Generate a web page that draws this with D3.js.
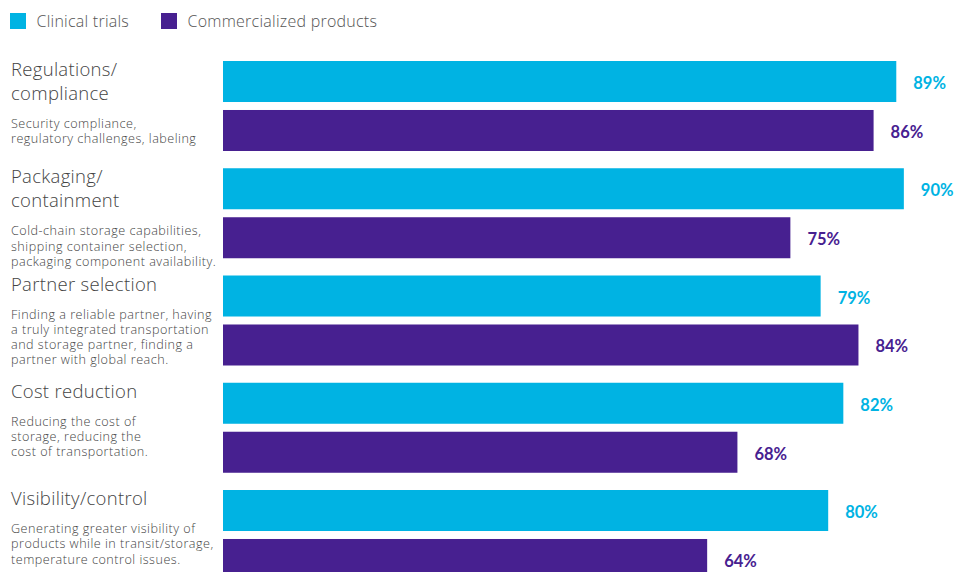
<!DOCTYPE html>
<html>
<head>
<meta charset="utf-8">
<script src="https://cdn.jsdelivr.net/npm/d3@7"></script>
<style>
  html, body { margin: 0; padding: 0; background: #fff; }
  svg { display: block; font-family: "Open Sans", Lato, sans-serif; }
</style>
</head>
<body>
<svg id="chart" width="969" height="572"></svg>
<script>
const categories = ["Regulations/ compliance", "Packaging/ containment", "Partner selection", "Cost reduction", "Visibility/control"];
const titleLines = [["Regulations/", "compliance"], ["Packaging/", "containment"], ["Partner selection"], ["Cost reduction"], ["Visibility/control"]];
const descLines = [
  ["Security compliance,", "regulatory challenges, labeling"],
  ["Cold-chain storage capabilities,", "shipping container selection,", "packaging component availability."],
  ["Finding a reliable partner, having", "a truly integrated transportation", "and storage partner, finding a", "partner with global reach."],
  ["Reducing the cost of", "storage, reducing the", "cost of transportation."],
  ["Generating greater visibility of", "products while in transit/storage,", "temperature control issues."]
];
const series = ["Clinical trials", "Commercialized products"];
const clinical = [89, 90, 79, 82, 80];
const commercial = [86, 75, 84, 68, 64];
const colors = ["#00B3E3", "#472090"];

const svg = d3.select("#chart");
const x = d3.scaleLinear().domain([0, 100]).range([223, 979.5]);
const y0 = d3.scaleBand().domain(categories).range([61, 61 + 5 * 107.25]);
const y1 = d3.scaleBand().domain(series).range([0, 90]).paddingInner(0.163);

const data = categories.map((c, i) => ({ cat: c, i, vals: [clinical[i], commercial[i]] }));

// legend
const legend = svg.append("g");
const legX = [10, 161];
series.forEach((s, k) => {
  legend.append("rect").attr("x", legX[k]).attr("y", 13).attr("width", 16).attr("height", 16).attr("fill", colors[k]);
  legend.append("text").attr("x", legX[k] + 26.5).attr("y", 26.5).attr("font-size", 16).attr("font-weight", 300)
    .attr("letter-spacing", 0.25).attr("fill", "#555").text(s);
});

// groups
const g = svg.selectAll("g.cat").data(data).join("g").attr("class", "cat")
  .attr("transform", d => `translate(0,${y0(d.cat)})`);

g.selectAll("rect.bar").data(d => d.vals.map((v, k) => ({ v, k }))).join("rect")
  .attr("class", "bar")
  .attr("x", x(0))
  .attr("y", d => y1(series[d.k]))
  .attr("width", d => x(d.v) - x(0))
  .attr("height", y1.bandwidth())
  .attr("fill", d => colors[d.k]);

g.selectAll("text.val").data(d => d.vals.map((v, k) => ({ v, k }))).join("text")
  .attr("class", "val")
  .attr("x", d => x(d.v) + 17)
  .attr("y", d => y1(series[d.k]) + y1.bandwidth() / 2 + 7.5)
  .attr("font-family", "Lato, sans-serif")
  .attr("font-size", 16.5)
  .attr("font-weight", 700)
  .attr("fill", d => colors[d.k])
  .text(d => d.v + "%");

// titles
g.each(function(d) {
  const sel = d3.select(this);
  const tl = titleLines[d.i];
  tl.forEach((line, j) => {
    sel.append("text").attr("x", 11).attr("y", 15 + j * 24)
      .attr("font-size", 18.5).attr("font-weight", 300).attr("letter-spacing", 0.3)
      .attr("fill", "#444").text(line);
  });
  const start = 15 + (tl.length - 1) * 24 + 28;
  descLines[d.i].forEach((line, j) => {
    sel.append("text").attr("x", 11).attr("y", start + j * 15.3)
      .attr("font-size", 12.6).attr("font-weight", 300).attr("letter-spacing", 0.5)
      .attr("fill", "#444").text(line);
  });
});
</script>
</body>
</html>
